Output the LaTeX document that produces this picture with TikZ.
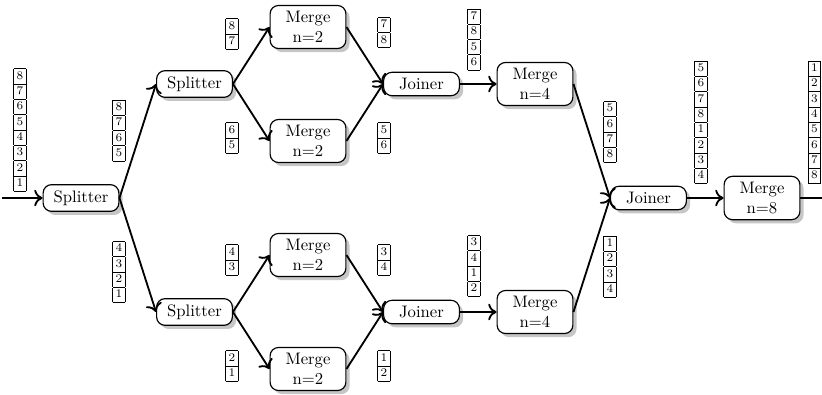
\documentclass[tikz,border=0pt]{standalone}
\usetikzlibrary{shadows,arrows.meta}
\newcommand\cellstack[1]{{\setlength\tabcolsep{1.8pt}\renewcommand\arraystretch{1.1}\begin{tabular}{|c|}\hline #1\end{tabular}}}
\newcommand\cl[1]{#1\\\hline}
\tikzset{
  proc/.style={draw, line width=0.7pt, rounded corners=5pt, fill=white,
    drop shadow={shadow xshift=2.2pt, shadow yshift=-2.2pt, opacity=0.45},
    minimum width=45.5pt, inner ysep=3.5pt, align=center},
  flow/.style={-{To[length=5pt,width=10pt]}, line width=1.1pt},
  stk/.style={inner sep=0pt, font=\scriptsize},
}
\begin{document}
\begin{tikzpicture}[x=0.6006pt, y=-0.6006pt]
\useasboundingbox (0,0) rectangle (822,395);
% process nodes
\node[proc] (sp1) at (81,198) {Splitter};
\node[proc] (sp2) at (194.5,84) {Splitter};
\node[proc] (sp3) at (194.5,312) {Splitter};
\node[proc] (m1) at (308,27) {Merge\\n=2};
\node[proc] (m2) at (308,141) {Merge\\n=2};
\node[proc] (m3) at (308,255) {Merge\\n=2};
\node[proc] (m4) at (308,369) {Merge\\n=2};
\node[proc] (j1) at (421.5,84) {Joiner};
\node[proc] (j2) at (421.5,312) {Joiner};
\node[proc] (m5) at (535,84) {Merge\\n=4};
\node[proc] (m6) at (535,312) {Merge\\n=4};
\node[proc] (j3) at (648.5,198) {Joiner};
\node[proc] (m7) at (762,198) {Merge\\n=8};
\coordinate (in) at (2,198);
\coordinate (out) at (845,198);
% connectors
\draw[flow] (in) -- (sp1.west);
\draw[flow] (sp1.east) -- (sp2.west);
\draw[flow] (sp1.east) -- (sp3.west);
\draw[flow] (sp2.east) -- (m1.west);
\draw[flow] (sp2.east) -- (m2.west);
\draw[flow] (sp3.east) -- (m3.west);
\draw[flow] (sp3.east) -- (m4.west);
\draw[flow] (m1.east) -- (j1.west);
\draw[flow] (m2.east) -- (j1.west);
\draw[flow] (m3.east) -- (j2.west);
\draw[flow] (m4.east) -- (j2.west);
\draw[flow] (j1.east) -- (m5.west);
\draw[flow] (j2.east) -- (m6.west);
\draw[flow] (m5.east) -- (j3.west);
\draw[flow] (m6.east) -- (j3.west);
\draw[flow] (j3.east) -- (m7.west);
\draw[flow] (m7.east) -- (out);
% data stacks
\node[stk] (d0) at (20,130) {\cellstack{\cl8\cl7\cl6\cl5\cl4\cl3\cl2\cl1}};
\node[stk] (d1) at (119,130.5) {\cellstack{\cl8\cl7\cl6\cl5}};
\node[stk] (d2) at (119,272) {\cellstack{\cl4\cl3\cl2\cl1}};
\node[stk] (d3) at (232,34) {\cellstack{\cl8\cl7}};
\node[stk] (d4) at (232,138) {\cellstack{\cl6\cl5}};
\node[stk] (d5) at (232,260) {\cellstack{\cl4\cl3}};
\node[stk] (d6) at (232,366) {\cellstack{\cl2\cl1}};
\node[stk] (d7) at (384,32.5) {\cellstack{\cl7\cl8}};
\node[stk] (d8) at (384,138) {\cellstack{\cl5\cl6}};
\node[stk] (d9) at (384,260) {\cellstack{\cl3\cl4}};
\node[stk] (d10) at (384,366) {\cellstack{\cl1\cl2}};
\node[stk] (d11) at (474,39.5) {\cellstack{\cl7\cl8\cl5\cl6}};
\node[stk] (d12) at (474,266) {\cellstack{\cl3\cl4\cl1\cl2}};
\node[stk] (d13) at (610,132) {\cellstack{\cl5\cl6\cl7\cl8}};
\node[stk] (d14) at (610,266.7) {\cellstack{\cl1\cl2\cl3\cl4}};
\node[stk] (d15) at (701,122.3) {\cellstack{\cl5\cl6\cl7\cl8\cl1\cl2\cl3\cl4}};
\node[stk] (d16) at (814.5,122.3) {\cellstack{\cl1\cl2\cl3\cl4\cl5\cl6\cl7\cl8}};
\end{tikzpicture}
\end{document}
